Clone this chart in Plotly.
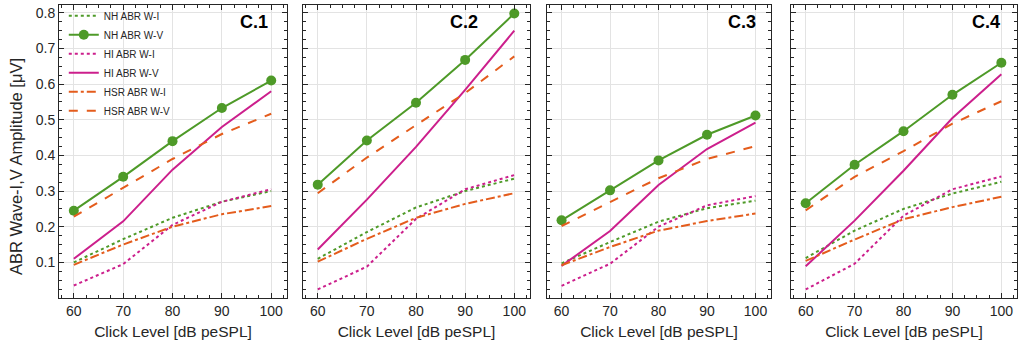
import plotly.graph_objects as go

levels = [60, 70, 80, 90, 100]
panel_labels = ["C.1", "C.2", "C.3", "C.4"]
series_names = ["NH ABR W-I", "NH ABR W-V", "HI ABR W-I", "HI ABR W-V", "HSR ABR W-I", "HSR ABR W-V"]

# values per panel (C.1 .. C.4)
nh_w1 = [
    [0.100, 0.165, 0.225, 0.270, 0.300],
    [0.110, 0.185, 0.254, 0.300, 0.335],
    [0.097, 0.157, 0.214, 0.252, 0.273],
    [0.112, 0.189, 0.250, 0.293, 0.326],
]
nh_w5 = [
    [0.245, 0.340, 0.440, 0.533, 0.610],
    [0.318, 0.442, 0.548, 0.668, 0.798],
    [0.218, 0.302, 0.386, 0.458, 0.512],
    [0.266, 0.374, 0.468, 0.570, 0.660],
]
hi_w1 = [
    [0.035, 0.095, 0.205, 0.270, 0.305],
    [0.024, 0.088, 0.222, 0.305, 0.345],
    [0.034, 0.096, 0.200, 0.260, 0.286],
    [0.024, 0.096, 0.231, 0.305, 0.341],
]
hi_w5 = [
    [0.110, 0.215, 0.360, 0.480, 0.580],
    [0.136, 0.276, 0.424, 0.584, 0.750],
    [0.090, 0.188, 0.317, 0.418, 0.492],
    [0.089, 0.217, 0.357, 0.505, 0.628],
]
hsr_w1 = [
    [0.093, 0.150, 0.200, 0.235, 0.258],
    [0.102, 0.166, 0.225, 0.264, 0.294],
    [0.092, 0.143, 0.189, 0.216, 0.237],
    [0.104, 0.164, 0.221, 0.255, 0.284],
]
hsr_w5 = [
    [0.228, 0.310, 0.390, 0.460, 0.517],
    [0.294, 0.394, 0.485, 0.575, 0.678],
    [0.202, 0.270, 0.336, 0.390, 0.426],
    [0.246, 0.340, 0.412, 0.489, 0.552],
]

y_ticks = [0.1, 0.2, 0.3, 0.4, 0.5, 0.6, 0.7, 0.8]
x_ticks = [60, 70, 80, 90, 100]

GREEN = "#4e9a28"
MAGENTA = "#cc1f8c"
ORANGE = "#e45c1c"
FONT = "Liberation Sans, Arial"
INK = "#262626"

styles = [
    (nh_w1, GREEN, "dot", False),
    (nh_w5, GREEN, "solid", True),
    (hi_w1, MAGENTA, "dot", False),
    (hi_w5, MAGENTA, "solid", False),
    (hsr_w1, ORANGE, "dashdot", False),
    (hsr_w5, ORANGE, "dash", False),
]

fig = go.Figure()

L, R, T, B = 59, 4, 5, 46
W, H = 1021, 344
pw = W - L - R
ph = H - T - B
panels_px = [(59, 287), (303, 530), (547, 771), (791, 1017)]
label_shift = [-17, -50, -13, -15]
domains = [((a - L) / pw, (b - L) / pw) for a, b in panels_px]

for p in range(4):
    xa = "x" if p == 0 else f"x{p+1}"
    ya = "y" if p == 0 else f"y{p+1}"
    for (data, color, dash, marker), name in zip(styles, series_names):
        fig.add_trace(go.Scatter(
            x=levels, y=data[p], name=name,
            mode="lines+markers" if marker else "lines",
            line=dict(color=color, width=2, dash=dash),
            marker=dict(size=10, color=color) if marker else None,
            showlegend=(p == 0),
            xaxis=xa, yaxis=ya,
        ))

axis_common = dict(
    showline=True, linecolor=INK, linewidth=1, mirror="allticks",
    ticks="inside", ticklen=5, tickcolor=INK, tickwidth=1,
    showgrid=True, gridcolor="#e3e3e3", gridwidth=1, zeroline=False,
    tickfont=dict(family=FONT, size=14, color=INK),
    automargin=False,
)

for p in range(4):
    sx = "" if p == 0 else str(p + 1)
    xdict = dict(axis_common)
    xdict.update(
        domain=list(domains[p]), range=[57, 103.2], tickvals=x_ticks,
        anchor="y" + sx,
        minor=dict(dtick=2.5, tick0=60, ticks="inside", ticklen=3, tickcolor=INK, showgrid=False),
        title=dict(text="Click Level [dB peSPL]", font=dict(family=FONT, size=15.5, color=INK), standoff=8),
    )
    ydict = dict(axis_common)
    ydict.update(
        domain=[0, 1], range=[0, 0.822], tickvals=y_ticks,
        ticktext=[f"{v:.1f}" for v in y_ticks],
        showticklabels=(p == 0),
        anchor="x" + sx,
        minor=dict(dtick=0.025, tick0=0, ticks="inside", ticklen=3, tickcolor=INK, showgrid=False),
    )
    fig.update_layout(**{"xaxis" + sx: xdict, "yaxis" + sx: ydict})
    fig.add_annotation(
        text=f"<b>{panel_labels[p]}</b>", xref=f"x{sx} domain", yref=f"y{sx} domain",
        x=1, y=1, xanchor="right", yanchor="top", xshift=label_shift[p], yshift=-5,
        showarrow=False, font=dict(family=FONT, size=18, color="black"),
    )

fig.add_annotation(
    text="ABR Wave-I,V Amplitude [μV]", xref="paper", yref="paper",
    x=(16 - L) / pw, y=(H - B - 167) / ph,
    textangle=-90, showarrow=False, xanchor="center", yanchor="middle",
    font=dict(family=FONT, size=16.5, color=INK),
)

fig.update_layout(
    width=W, height=H,
    margin=dict(l=L, r=R, t=T, b=B, autoexpand=False),
    paper_bgcolor="white", plot_bgcolor="white",
    showlegend=True,
    legend=dict(
        x=0.005, y=1.013, xanchor="left", yanchor="top",
        bgcolor="rgba(255,255,255,0)", borderwidth=0,
        font=dict(family=FONT, size=10, color=INK),
        itemwidth=30, tracegroupgap=0,
    ),
)

fig.write_html("out.html", config={"displayModeBar": False},
               post_script="document.body.style.margin='0';document.body.style.overflow='hidden';")
